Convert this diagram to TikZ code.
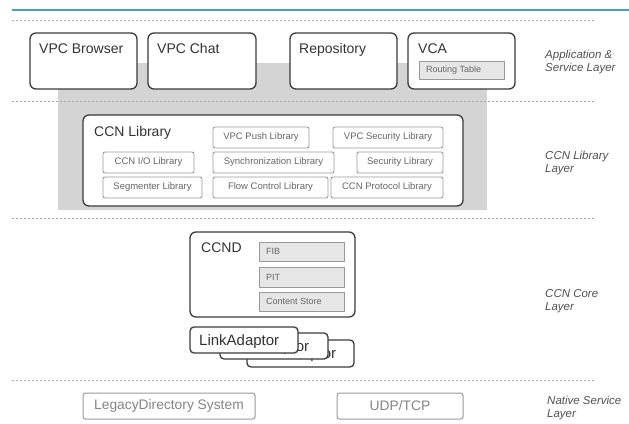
\documentclass[tikz,border=0pt]{standalone}
\usepackage{fontspec}
\setmainfont{Liberation Sans}
\usetikzlibrary{fit}
\definecolor{cdark}{HTML}{3A3A3A}
\definecolor{clight}{HTML}{9A9A9A}
\definecolor{cfill}{HTML}{E6E6E6}
\definecolor{cbg}{HTML}{D4D4D4}
\definecolor{ctext}{HTML}{333333}
\definecolor{clib}{HTML}{666666}
\definecolor{clegacy}{HTML}{858585}
\definecolor{cdash}{HTML}{A8A8A8}
\definecolor{cblue}{HTML}{4B9CC9}
\definecolor{clabel}{HTML}{505050}
\tikzset{
  bigbox/.style={draw=cdark, line width=1.3pt, rounded corners=6pt, fill=white, inner sep=0pt},
  bigtext/.style={anchor=base west, inner sep=0pt, text=ctext, font=\fontsize{14}{16}\selectfont},
  latext/.style={bigtext, font=\fontsize{15}{17}\selectfont},
  libbox/.style={draw=clight, line width=0.9pt, rounded corners=2pt, fill=white, inner sep=0pt},
  libtext/.style={inner sep=0pt, text=clib, font=\fontsize{9.5}{11}\selectfont},
  tblbox/.style={draw=clight, line width=0.9pt, fill=cfill, inner sep=0pt},
  tbltext/.style={anchor=west, inner sep=0pt, text=clib, font=\fontsize{9}{11}\selectfont},
  nativebox/.style={draw=clight, line width=1pt, rounded corners=2.5pt, fill=white, inner sep=0pt},
  nativetext/.style={inner sep=0pt, text=clegacy, font=\fontsize{13.8}{15}\selectfont},
  layerlabel/.style={anchor=base west, inner sep=0pt, text=clabel, font=\fontsize{11.5}{13}\selectfont\itshape},
  sepline/.style={draw=cdash, line width=0.8pt, dash pattern=on 2pt off 2pt},
}
\begin{document}
\begin{tikzpicture}[x=1pt,y=-1pt]
\useasboundingbox (0,0) rectangle (629,423);
% gray background of library layer
\fill[cbg] (58,63) rectangle (487,210);
% top blue rule
\draw[cblue, line width=2pt] (12,10) -- (629,10);
% layer separators
\coordinate (s1a) at (12,20);  \coordinate (s1b) at (596,20);
\coordinate (s2a) at (12,101); \coordinate (s2b) at (596,101);
\coordinate (s3a) at (12,218); \coordinate (s3b) at (596,218);
\coordinate (s4a) at (12,380); \coordinate (s4b) at (596,380);
\draw[sepline] (s1a) -- (s1b);
\draw[sepline] (s2a) -- (s2b);
\draw[sepline] (s3a) -- (s3b);
\draw[sepline] (s4a) -- (s4b);

% ---------- Application & Service Layer ----------
\node[bigbox, fit={(30,33) (137,89)}] (browser) {};
\node[bigtext] (browsert) at (39,53) {VPC Browser};
\node[bigbox, fit={(148,33) (256,89)}] (chat) {};
\node[bigtext] (chatt) at (157,53) {VPC Chat};
\node[bigbox, fit={(290,33) (397,89)}] (repo) {};
\node[bigtext] (repot) at (299,53) {Repository};
\node[bigbox, fit={(408,33) (515,89)}] (vca) {};
\node[bigtext] (vcat) at (418,53) {VCA};
\node[tblbox, fit={(419,61) (504,79)}] (routing) {};
\node[tbltext] (routingt) at (426,70) {Routing Table};
\node[layerlabel] (l1a) at (545,58) {Application \&};
\node[layerlabel] (l1b) at (545,71) {Service Layer};

% ---------- CCN Library Layer ----------
\node[bigbox, fit={(83,115) (463,206)}] (ccnlib) {};
\node[bigtext] (ccnlibt) at (94,136) {CCN Library};
\node[libbox, fit={(213,127) (309,148)}] (push) {};
\node[libtext] at (push.center) {VPC Push Library};
\node[libbox, fit={(333,127) (443,148)}] (vpcsec) {};
\node[libtext] at (vpcsec.center) {VPC Security Library};
\node[libbox, fit={(103,152) (194,173)}] (io) {};
\node[libtext] at (io.center) {CCN I/O Library};
\node[libbox, fit={(213,152) (334,173)}] (sync) {};
\node[libtext] at (sync.center) {Synchronization Library};
\node[libbox, fit={(357,152) (443,173)}] (sec) {};
\node[libtext] at (sec.center) {Security Library};
\node[libbox, fit={(103,177) (202,198)}] (seg) {};
\node[libtext] at (seg.center) {Segmenter Library};
\node[libbox, fit={(213,177) (328,198)}] (flow) {};
\node[libtext] at (flow.center) {Flow Control Library};
\node[libbox, fit={(331,177) (443,198)}] (proto) {};
\node[libtext] at (proto.center) {CCN Protocol Library};
\node[layerlabel] (l2a) at (545,159) {CCN Library};
\node[layerlabel] (l2b) at (545,172) {Layer};

% ---------- CCN Core Layer ----------
\node[bigbox, fit={(190,232) (355,317)}] (ccnd) {};
\node[bigtext] (ccndt) at (201,252) {CCND};
\node[tblbox, fit={(259,242) (344,261)}] (fib) {};
\node[tbltext] (fibt) at (266,251.5) {FIB};
\node[tblbox, fit={(259,267) (344,287)}] (pit) {};
\node[tbltext] (pitt) at (266,277) {PIT};
\node[tblbox, fit={(259,292) (344,311)}] (cs) {};
\node[tbltext] (cst) at (266,301.5) {Content Store};
% stacked link adaptors (back to front)
\node[bigbox, rounded corners=4pt, fit={(247,340) (354,367)}] (la3) {};
\node[latext] (la3t) at (256,358) {LinkAdaptor};
\node[bigbox, rounded corners=4pt, fit={(220,333) (328,359)}] (la2) {};
\node[latext] (la2t) at (229,351) {LinkAdaptor};
\node[bigbox, rounded corners=4pt, fit={(190,327) (298,353)}] (la1) {};
\node[latext] (la1t) at (199,345) {LinkAdaptor};
\node[layerlabel] (l3a) at (545,297) {CCN Core};
\node[layerlabel] (l3b) at (545,310) {Layer};

% ---------- Native Service Layer ----------
\node[nativebox, fit={(83,393) (255,419)}] (legacy) {};
\node[nativetext] at (legacy.center) {LegacyDirectory System};
\node[nativebox, fit={(337,393) (463,419)}] (udp) {};
\node[nativetext] at (udp.center) {UDP/TCP};
\node[layerlabel] (l4a) at (547,404) {Native Service};
\node[layerlabel] (l4b) at (547,417) {Layer};
\end{tikzpicture}
\end{document}
